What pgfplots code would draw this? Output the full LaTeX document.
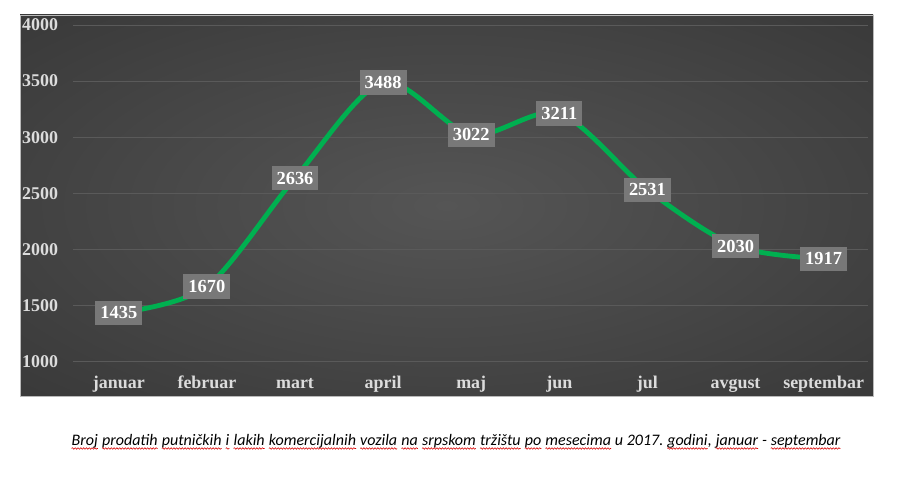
\documentclass[border=0pt]{standalone}
\usepackage{fontspec}
\setmainfont{Liberation Serif}
\newfontfamily\capfont{Carlito}
\usepackage{pgfplots}
\pgfplotsset{compat=1.18}
\usetikzlibrary{decorations.pathmorphing}
\definecolor{lineg}{HTML}{00B050}
\definecolor{labelgray}{HTML}{787878}
\definecolor{gridc}{HTML}{5A5A5A}
\definecolor{tickc}{HTML}{DCDCDC}
\definecolor{pcA}{HTML}{555555}
\definecolor{pcB}{HTML}{2E2E2E}
\definecolor{pcC}{HTML}{202020}
\pgfdeclareradialshading{panelshade}{\pgfpoint{0bp}{0bp}}{color(0bp)=(pcA); color(50bp)=(pcB); color(71bp)=(pcC)}
\newcommand{\sq}[1]{\tikz[baseline=(w.base)]{\node[inner sep=0pt,outer sep=0pt,anchor=base](w){#1};\draw[red!85!black,line width=0.55bp,decorate,decoration={snake,amplitude=0.8bp,segment length=2.8bp}]([yshift=-2.8bp]w.base west)--([yshift=-2.8bp]w.base east);}}
\pgfplotsset{/pgf/number format/.cd, 1000 sep={}, assume math mode=true}
\begin{document}
\begin{tikzpicture}[x=1bp,y=1bp]
\fill[white] (0,0) rectangle (900,481);
\useasboundingbox (0,0) rectangle (900,481);
\shade[shading=panelshade, draw=gray!55, line width=0.6bp] (20,85) rectangle (873,466);
\begin{axis}[
  at={(73bp,119.3bp)}, anchor=south west,
  width=795.3bp, height=336.7bp, scale only axis,
  xmin=-0.52, xmax=8.507, ymin=1000, ymax=4000,
  xtick={0,1,2,3,4,5,6,7,8},
  xticklabels={januar,februar,mart,april,maj,jun,jul,avgust,septembar},
  ytick={1000,1500,2000,2500,3000,3500,4000},
  axis line style={draw=none},
  major tick length=0pt,
  ymajorgrids, xmajorgrids=false,
  grid style={color=gridc, line width=0.9bp},
  tick label style={text=tickc, font=\fontsize{18}{18}\selectfont\bfseries},
  yticklabel style={anchor=east, inner sep=0pt, xshift=-14.7bp},
  xticklabel style={anchor=base, inner sep=0pt, yshift=-27bp},
  clip=false,
]
\addplot[lineg, line width=4.8bp, smooth, tension=0.5,
  nodes near coords,
  every node near coord/.append style={anchor=center, fill=labelgray, text=white,
    font=\fontsize{18.5}{18.5}\selectfont\bfseries, inner xsep=5bp, inner ysep=6bp}]
  coordinates {(0,1435) (1,1670) (2,2636) (3,3488) (4,3022) (5,3211) (6,2531) (7,2030) (8,1917)};
\end{axis}
\node[font=\capfont\itshape\fontsize{16.1}{16.1}\selectfont, anchor=base, inner sep=0pt] at (456,35.3)
  {\sq{Broj} \sq{prodatih} \sq{putničkih} \sq{i} \sq{lakih} \sq{komercijalnih} \sq{vozila} \sq{na} \sq{srpskom} \sq{tržištu} \sq{po} \sq{mesecima} u 2017.\ \sq{godini}, \sq{januar} - \sq{septembar}};
\end{tikzpicture}
\end{document}
